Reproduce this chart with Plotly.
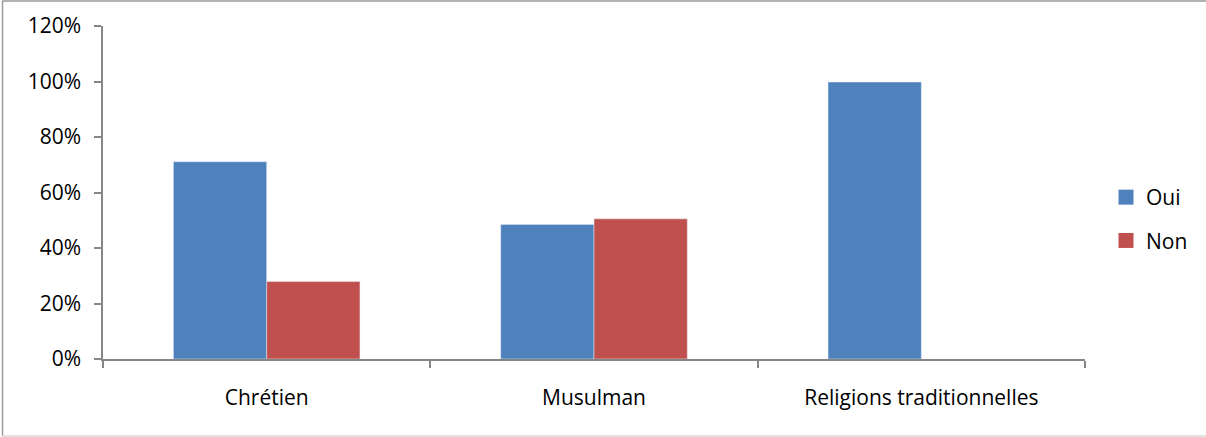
import plotly.graph_objects as go

categories = ["Chrétien", "Musulman", "Religions traditionnelles"]
oui = [0.711, 0.485, 0.998]
non = [0.279, 0.505, None]
series_names = ["Oui", "Non"]
colors = ["#4F81BD", "#C0504D"]

W, H = 1206, 437
ml, mr, mt, mb = 103, 121, 26, 78
pw, ph = W - ml - mr, H - mt - mb

fig = go.Figure()
fig.add_trace(go.Bar(x=categories, y=oui, name=series_names[0], marker_color=colors[0],
                     showlegend=False))
fig.add_trace(go.Bar(x=categories, y=non, name=series_names[1], marker_color=colors[1],
                     showlegend=False))
# legend entries with larger square keys
for i, (nm, c) in enumerate(zip(series_names, colors)):
    fig.add_trace(go.Scatter(x=[None], y=[None], mode="markers", name=nm,
                             marker=dict(symbol="square", size=15, color=c),
                             legendgroup=f"g{i}", showlegend=True))

font = dict(family="Open Sans, sans-serif", size=21, color="#000000")

def px_x(x):
    return (x - ml) / pw

def px_y(y):
    return (H - mb - y) / ph

fig.update_layout(
    width=W, height=H,
    margin=dict(l=ml, r=mr, t=mt, b=mb),
    paper_bgcolor="white", plot_bgcolor="white",
    barmode="group", bargap=0.43, bargroupgap=0,
    font=font,
    showlegend=True,
    legend=dict(x=px_x(1106), y=px_y(219), xanchor="left", yanchor="middle",
                font=font, traceorder="grouped", tracegroupgap=13,
                bgcolor="rgba(0,0,0,0)", borderwidth=0),
    xaxis=dict(showline=True, linecolor="#868686", linewidth=2,
               ticks="outside", tickson="boundaries", ticklen=7,
               tickcolor="#868686", tickwidth=1.5, showgrid=False,
               tickfont=font, ticklabelstandoff=19),
    yaxis=dict(range=[0, 1.2], dtick=0.2, tickformat=".0%",
               showline=True, linecolor="#868686", linewidth=1.5,
               ticks="outside", ticklen=7, tickcolor="#868686", tickwidth=1.5,
               showgrid=False, zeroline=False, tickfont=font,
               ticklabelstandoff=9),
    shapes=[
        dict(type="line", xref="paper", yref="paper",
             x0=px_x(2.5), x1=px_x(2.5), y0=px_y(1), y1=px_y(436),
             line=dict(color="#9a9a9a", width=1.5), layer="below"),
        dict(type="line", xref="paper", yref="paper",
             x0=px_x(2), x1=px_x(1206), y0=px_y(1), y1=px_y(1),
             line=dict(color="#9a9a9a", width=1.5), layer="below"),
        dict(type="line", xref="paper", yref="paper",
             x0=px_x(2), x1=px_x(1206), y0=px_y(436), y1=px_y(436),
             line=dict(color="#d9d9d9", width=1.5), layer="below"),
    ],
)

fig.write_html("out.html", config={"displayModeBar": False},
               post_script="document.body.style.margin='0';")
